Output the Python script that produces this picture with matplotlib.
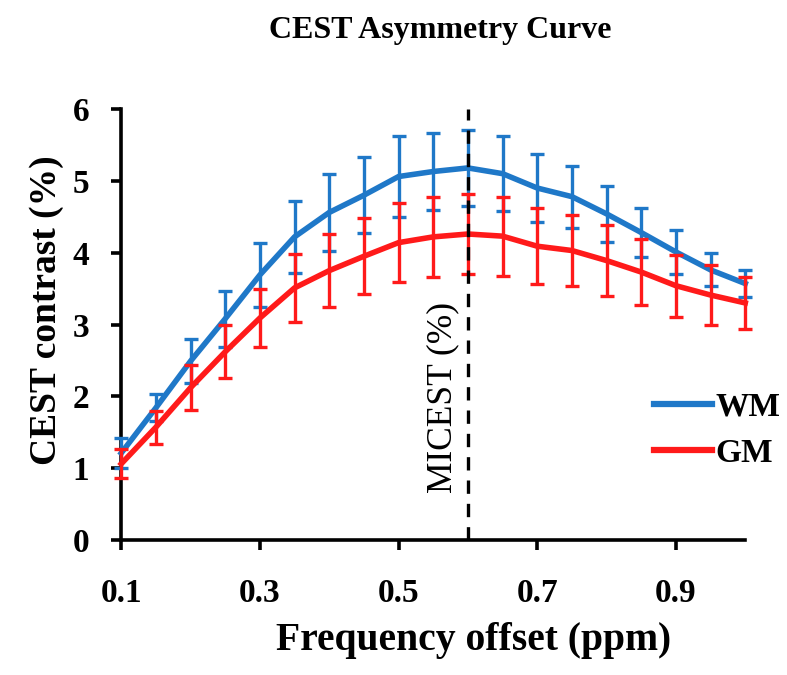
import matplotlib
matplotlib.use("Agg")
import matplotlib.pyplot as plt
from matplotlib.lines import Line2D

# frequency offsets (ppm)
offsets = [0.10, 0.15, 0.20, 0.25, 0.30, 0.35, 0.40, 0.45, 0.50, 0.55,
           0.60, 0.65, 0.70, 0.75, 0.80, 0.85, 0.90, 0.95, 1.00]

# white matter CEST contrast (%) and std
wm_mean = [1.21, 1.84, 2.49, 3.08, 3.69, 4.22, 4.56, 4.80, 5.06, 5.13,
           5.18, 5.10, 4.90, 4.78, 4.54, 4.28, 4.01, 3.76, 3.57]
wm_err = [0.21, 0.19, 0.31, 0.39, 0.44, 0.50, 0.53, 0.53, 0.56, 0.54,
          0.53, 0.52, 0.47, 0.43, 0.39, 0.34, 0.30, 0.23, 0.19]

# grey matter CEST contrast (%) and std
gm_mean = [1.06, 1.57, 2.12, 2.62, 3.09, 3.51, 3.75, 3.95, 4.14, 4.22,
           4.26, 4.23, 4.09, 4.03, 3.89, 3.73, 3.54, 3.41, 3.30]
gm_err = [0.20, 0.23, 0.31, 0.37, 0.41, 0.47, 0.51, 0.53, 0.55, 0.56,
          0.55, 0.55, 0.53, 0.50, 0.49, 0.46, 0.43, 0.42, 0.36]

micest_x = 0.6
x_ticks = [0.1, 0.3, 0.5, 0.7, 0.9]
y_ticks = [0, 1, 2, 3, 4, 5, 6]

plt.rcParams["font.family"] = ["Liberation Serif", "DejaVu Serif"]
plt.rcParams["font.weight"] = "bold"

fig = plt.figure(figsize=(7.87, 6.75), dpi=100)
ax = fig.add_axes([0.154, 0.2, 0.793, 0.6385])

blue = "#1f78c8"
red = "#ff1a1a"

for mean, err, col, z in [(wm_mean, wm_err, blue, 3), (gm_mean, gm_err, red, 4)]:
    eb = ax.errorbar(offsets, mean, yerr=err, color=col, lw=4,
                     elinewidth=2.4, capsize=5, capthick=2.4, zorder=z)
    for art in eb.lines[1] + eb.lines[2]:
        art.set_clip_on(False)
    eb.lines[0].set_clip_on(False)

ax.axvline(micest_x, color="black", lw=2.4, ls=(0, (4, 3)), zorder=5)
ax.text(micest_x - 0.013, 1.98, "MICEST (%)", rotation=90, ha="right",
        va="center", fontsize=25.5, fontweight="normal")

ax.set_xlim(0.1, 1.0)
ax.set_ylim(0, 6)
ax.set_xticks(x_ticks)
ax.set_xticklabels([str(t) for t in x_ticks])
ax.set_yticks(y_ticks)

for side in ["top", "right"]:
    ax.spines[side].set_visible(False)
for side in ["left", "bottom"]:
    ax.spines[side].set_linewidth(2.6)

ax.tick_params(axis="both", direction="out", length=7, width=2.6,
               labelsize=24, pad=20)
ax.tick_params(axis="y", pad=16)

ax.set_xlabel("Frequency offset (ppm)", fontsize=28.5, fontweight="bold")
ax.xaxis.set_label_coords(0.564, -0.19)
ax.set_ylabel("CEST contrast (%)", fontsize=27, fontweight="bold")
ax.yaxis.set_label_coords(-0.091, 0.534)
fig.text(0.56, 0.955, "CEST Asymmetry Curve", ha="center", va="center",
         fontsize=23, fontweight="bold")

handles = [Line2D([], [], color=blue, lw=4.5), Line2D([], [], color=red, lw=4.5)]
ax.legend(handles, ["WM", "GM"], loc="center left",
          bbox_to_anchor=(0.805, 0.255), frameon=False, fontsize=24,
          handlelength=1.75, handletextpad=0.1, labelspacing=0.45)

fig.savefig("out.png", dpi=100)
